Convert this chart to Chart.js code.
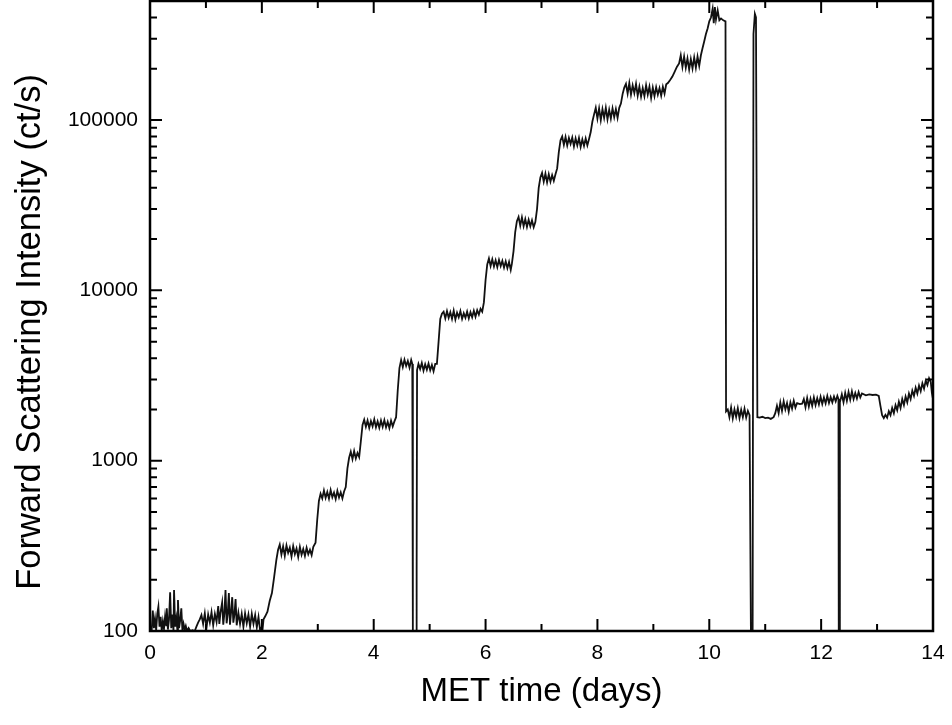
<!DOCTYPE html>
<html>
<head>
<meta charset="utf-8">
<script src="https://cdn.jsdelivr.net/npm/chart.js@4.4.1/dist/chart.umd.min.js"></script>
<style>
  html, body { margin: 0; padding: 0; background: #fff; }
  canvas { display: block; }
</style>
</head>
<body>
<canvas id="chart" width="952" height="725"></canvas>
<script>
// [day, ct/s]
const quietStart = [
  [0.03,100],[0.05,132],[0.07,104],[0.09,118],[0.11,101],[0.13,126],[0.15,139],[0.17,106],
  [0.19,121],[0.21,100],[0.23,114],[0.25,103],[0.27,122],[0.29,108],[0.30,136],[0.32,102],
  [0.34,117],[0.36,169],[0.38,104],[0.40,125],[0.42,100],[0.43,174],[0.45,106],[0.47,119],
  [0.49,101],[0.50,152],[0.52,104],[0.54,116],[0.56,136],[0.58,100],[0.60,110],[0.62,102],
  [0.64,107],[0.66,100],[0.69,104],[0.72,100],[0.76,101],[0.80,100],[0.83,106],[0.86,112],[0.89,117]
];
const lowPlateau = [
  [0.92,124],[0.95,110],[0.98,127],[1.01,104],[1.04,125],[1.07,112],[1.10,129],[1.13,108],
  [1.16,126],[1.19,113],[1.22,140],[1.24,110],[1.26,128],[1.29,147],[1.31,109],[1.33,127],
  [1.35,174],[1.37,111],[1.39,126],[1.41,167],[1.43,109],[1.45,129],[1.47,158],[1.49,112],
  [1.51,125],[1.53,154],[1.55,108],[1.58,128],[1.61,110],[1.64,126],[1.67,106],[1.70,127],
  [1.73,111],[1.76,125],[1.79,106],[1.82,126],[1.85,110],[1.88,124],[1.91,105],[1.94,121],
  [1.97,100],[1.99,104],[2.01,100],[2.03,117],[2.06,122]
];
const stepsLow = [
  [2.10,130],[2.14,150],[2.18,167],[2.22,208],[2.26,262],[2.29,300],
  [2.32,322],[2.35,281],[2.38,314],[2.41,276],[2.44,318],[2.47,288],[2.50,309],[2.53,274],
  [2.56,315],[2.59,283],[2.62,305],[2.65,272],[2.68,312],[2.71,280],[2.74,303],[2.77,276],
  [2.80,308],[2.83,282],[2.86,300],[2.89,279],[2.92,312],
  [2.96,330],[2.99,450],[3.02,580],[3.05,640],
  [3.08,600],[3.11,668],[3.14,605],[3.17,655],[3.20,598],[3.23,672],[3.26,610],[3.29,650],
  [3.32,595],[3.35,665],[3.38,608],[3.41,652],[3.44,600],[3.47,660],
  [3.50,700],[3.53,900],[3.56,1040],
  [3.59,1130],[3.62,1020],[3.65,1140],[3.68,1030],[3.71,1110],[3.74,1050],
  [3.77,1300],[3.80,1620],
  [3.83,1740],[3.86,1580],[3.89,1720],[3.92,1560],[3.95,1710],[3.98,1590],[4.01,1750],[4.04,1570],
  [4.07,1700],[4.10,1560],[4.13,1720],[4.16,1580],[4.19,1730],[4.22,1570],[4.25,1690],[4.28,1550],
  [4.31,1720],[4.34,1590],[4.37,1700],
  [4.40,1800],[4.43,2600],[4.46,3500],
  [4.49,3900],[4.52,3550],[4.55,3920],[4.58,3600],[4.61,3850],[4.64,3520],[4.67,3900],[4.69,3700]
];
const firstDrop = [[4.70,90],[4.76,90],[4.765,180],[4.77,230],[4.775,3400]];
const stepsMid = [
  [4.80,3700],[4.83,3450],[4.86,3750],[4.89,3380],[4.92,3680],[4.95,3420],[4.98,3720],[5.01,3400],
  [5.04,3650],[5.07,3350],[5.10,3700],
  [5.13,3700],[5.16,5000],[5.19,6800],[5.22,7300],
  [5.25,7500],[5.28,6850],[5.31,7550],[5.34,6900],[5.37,7450],[5.40,6800],[5.43,7600],[5.46,6750],
  [5.49,7400],[5.52,6950],[5.55,7550],[5.58,6800],[5.61,7350],[5.64,6900],[5.67,7500],[5.70,6850],
  [5.73,7450],[5.76,6950],[5.79,7600],[5.82,7000],[5.85,7650],[5.88,7200],[5.91,7800],[5.94,7500],
  [5.97,8500],[6.00,11500],[6.03,14200],
  [6.06,15400],[6.09,13900],[6.12,15200],[6.15,13800],[6.18,15000],[6.21,13700],[6.24,15100],
  [6.27,13900],[6.30,14900],[6.33,13600],[6.36,14800],[6.39,13500],[6.42,14700],[6.45,13200],[6.47,14300],
  [6.50,17000],[6.53,22000],[6.56,25500],
  [6.59,27000],[6.62,24000],[6.65,26800],[6.68,23800],[6.71,26200],[6.74,23600],[6.77,26000],
  [6.80,23800],[6.83,25800],[6.86,23500],[6.89,25200],
  [6.92,30000],[6.95,40000],[6.98,46000],
  [7.01,49000],[7.04,43500],[7.07,48500],[7.10,43000],[7.13,48000],[7.16,43500],[7.19,47500],
  [7.22,44000],[7.25,48000],
  [7.28,52000],[7.31,65000],[7.34,76000],
  [7.37,80000],[7.40,71500],[7.43,79500],[7.46,71000],[7.49,78500],[7.52,72500],[7.55,79000],
  [7.58,70000],[7.61,78000],[7.64,71000],[7.67,78500],[7.70,69500],[7.73,77000],[7.76,70500],
  [7.79,78000],[7.82,71000],[7.85,77500],
  [7.88,85000],[7.91,98000],[7.94,108000]
];
const stepsHigh = [
  [7.97,118000],[8.00,102000],[8.03,117000],[8.06,100000],[8.09,116000],[8.12,103000],[8.15,118000],
  [8.18,101000],[8.21,115000],[8.24,102000],[8.27,117000],[8.30,104000],[8.33,116000],[8.36,103000],
  [8.39,118000],
  [8.42,125000],[8.45,142000],[8.48,155000],
  [8.51,163000],[8.54,143000],[8.57,165000],[8.60,141000],[8.63,160000],[8.66,144000],[8.69,163000],
  [8.72,139000],[8.75,157000],[8.78,137000],[8.81,154000],[8.84,138000],[8.87,160000],[8.90,141000],
  [8.93,157000],[8.96,135000],[8.99,155000],[9.02,138000],[9.05,156000],[9.08,141000],[9.11,154000],
  [9.14,139000],[9.17,157000],[9.20,143000],[9.23,162000],
  [9.26,165000],[9.30,172000],[9.34,180000],[9.38,192000],[9.42,205000],[9.46,215000],
  [9.49,240000],[9.52,205000],[9.55,236000],[9.58,203000],[9.61,230000],[9.64,198000],[9.67,228000],
  [9.70,201000],[9.73,233000],[9.76,203000],[9.79,236000],[9.82,208000],
  [9.85,240000],[9.88,265000],[9.91,290000],[9.94,320000],[9.97,345000],[10.00,380000],[10.03,400000],
  [10.06,450000],[10.08,370000],[10.10,460000],[10.12,390000],[10.15,440000],[10.18,385000],
  [10.21,395000],[10.25,385000],[10.29,380000]
];
const lateLevel = [
  [10.30,1950],[10.33,2000],[10.36,1800],[10.39,2050],[10.42,1770],[10.45,2000],[10.48,1810],
  [10.51,2030],[10.54,1780],[10.57,1990],[10.60,1800],[10.63,2020],[10.66,1790],[10.69,1960],[10.72,1850]
];
const secondSpike = [[10.745,90],[10.775,90],[10.79,320000],[10.815,420000],[10.835,400000],[10.86,1800]];
const lateTail = [
  [10.90,1790],[10.95,1810],[11.00,1780],[11.05,1790],[11.10,1760],[11.15,1800],
  [11.18,1900],[11.21,2100],[11.24,1900],[11.27,2200],[11.30,1960],[11.33,2230],[11.36,2000],
  [11.39,2180],[11.42,1940],[11.45,2200],[11.48,2020],[11.51,2250],[11.54,2050],[11.57,2180],
  [11.62,2150],[11.66,2160],
  [11.69,2300],[11.72,2060],[11.75,2330],[11.78,2080],[11.81,2310],[11.84,2100],[11.87,2350],
  [11.90,2120],[11.93,2330],[11.96,2140],[11.99,2370],[12.02,2150],[12.05,2350],[12.08,2170],
  [12.11,2400],[12.14,2180],[12.17,2360],[12.20,2200],[12.23,2380],[12.26,2230],[12.29,2400],
  [12.31,2300],[12.315,90],[12.33,90],[12.335,2200],
  [12.37,2450],[12.40,2200],[12.43,2500],[12.46,2250],[12.49,2530],[12.52,2280],[12.55,2550],
  [12.58,2300],[12.61,2500],[12.64,2320],[12.67,2530],[12.70,2350],[12.73,2480],
  [12.80,2420],[12.86,2450],[12.92,2430],[12.98,2440],[13.03,2400],
  [13.06,2100],[13.09,1850],[13.12,1780],
  [13.15,1860],[13.18,1790],[13.21,1950],[13.24,1850],[13.27,2040],[13.30,1900],[13.33,2120],
  [13.36,1980],[13.39,2220],[13.42,2040],[13.45,2300],[13.48,2120],[13.51,2380],[13.54,2200],
  [13.57,2480],[13.60,2300],[13.63,2580],[13.66,2400],[13.69,2680],[13.72,2480],[13.75,2760],
  [13.78,2560],[13.81,2850],[13.84,2650],[13.87,2950],[13.90,2780],[13.93,3050],[13.96,2900],
  [13.98,2500],[14.00,2300]
];

const xTicks = [0, 2, 4, 6, 8, 10, 12, 14];
const yTicks = [100, 1000, 10000, 100000];

const trace = [].concat(quietStart, lowPlateau, stepsLow, firstDrop, stepsMid,
  stepsHigh, lateLevel, secondSpike, lateTail).map(p => ({x: p[0], y: p[1]}));

const FONT = "'Liberation Sans', Arial, Helvetica, sans-serif";

// inward ticks on all four sides + frame + y title
const frameTicks = {
  id: 'frameTicks',
  afterDatasetsDraw(chart) {
    const {ctx, chartArea: a, scales: {x, y}} = chart;
    ctx.save();
    ctx.strokeStyle = '#000';
    ctx.lineWidth = 2;
    ctx.beginPath();
    for (let d = 0; d <= 14; d++) {
      const px = x.getPixelForValue(d);
      const len = d % 2 === 0 ? 12 : 7;
      ctx.moveTo(px, a.bottom); ctx.lineTo(px, a.bottom - len);
      ctx.moveTo(px, a.top); ctx.lineTo(px, a.top + len);
    }
    for (let dec = 100; dec <= 100000; dec *= 10) {
      for (let m = 1; m <= 9; m++) {
        const v = dec * m;
        if (v > 500000) break;
        const py = y.getPixelForValue(v);
        const len = m === 1 ? 12 : 7;
        ctx.moveTo(a.left, py); ctx.lineTo(a.left + len, py);
        ctx.moveTo(a.right, py); ctx.lineTo(a.right - len, py);
      }
    }
    ctx.stroke();
    ctx.lineWidth = 2.5;
    ctx.strokeRect(a.left, a.top, a.right - a.left, a.bottom - a.top);

    ctx.translate(30, 332);
    ctx.rotate(-Math.PI / 2);
    ctx.fillStyle = '#000';
    ctx.font = '34.5px ' + FONT;
    ctx.textAlign = 'center';
    ctx.textBaseline = 'middle';
    ctx.fillText('Forward Scattering Intensity (ct/s)', 0, 0);
    ctx.restore();
  }
};

const ctx = document.getElementById('chart').getContext('2d');

const config = {
  type: 'line',
  data: {
    datasets: [{
      data: trace,
      borderColor: '#111',
      borderWidth: 1.8,
      pointRadius: 0,
      tension: 0,
      fill: false,
      clip: 0
    }]
  },
  options: {
    responsive: false,
    animation: false,
    layout: { padding: { top: 1, right: 19, left: 0, bottom: 0 } },
    plugins: {
      legend: { display: false },
      tooltip: { enabled: false }
    },
    scales: {
      x: {
        type: 'linear',
        min: 0,
        max: 14,
        afterBuildTicks: (scale) => { scale.ticks = xTicks.map(v => ({value: v})); },
        afterFit: (scale) => {
          scale.height = 94;
          scale.paddingLeft = 0;
          scale.paddingRight = 0;
        },
        grid: { display: false, drawTicks: false },
        border: { display: false },
        ticks: {
          padding: 10,
          color: '#000',
          font: { family: FONT, size: 21 },
          maxRotation: 0
        },
        title: {
          display: true,
          text: 'MET time (days)',
          color: '#000',
          font: { family: FONT, size: 33 },
          padding: { top: 0, bottom: 13 }
        }
      },
      y: {
        type: 'logarithmic',
        min: 100,
        max: 500000,
        afterBuildTicks: (scale) => { scale.ticks = yTicks.map(v => ({value: v})); },
        afterFit: (scale) => {
          scale.width = 150;
          scale.paddingTop = 0;
          scale.paddingBottom = 0;
        },
        grid: { display: false, drawTicks: false },
        border: { display: false },
        ticks: {
          padding: 12,
          color: '#000',
          font: { family: FONT, size: 21 },
          callback: (value) => String(value)
        }
      }
    }
  },
  plugins: [frameTicks]
};

const chart = new Chart(ctx, config);
</script>
</body>
</html>
